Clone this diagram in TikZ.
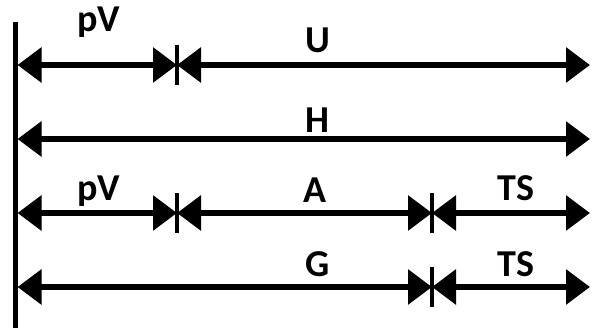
\documentclass[tikz,border=0pt]{standalone}
\usepackage{fontspec}
\setmainfont{Carlito}
\usetikzlibrary{arrows.meta}
\tikzstyle{axis}=[draw=black, line width=5pt]
\tikzstyle{dimline}=[draw=black, line width=6pt, {Triangle[length=24pt, width=34pt]}-{Triangle[length=24pt, width=34pt]}]
\tikzstyle{tick}=[draw=black, line width=3.5pt]
\tikzstyle{quantity}=[anchor=base, inner sep=0pt, font=\fontsize{38}{42}\selectfont\bfseries]

\begin{document}
\begin{tikzpicture}[x=1pt, y=-1pt]
	\useasboundingbox (0, 0) rectangle (592, 328);
	% axis
	\coordinate (top) at (15, 22);
	\coordinate (bottom) at (15, 328);
	\draw [style=axis] (top) to (bottom);
	% ends of the rows
	\coordinate (l1) at (17.5, 65);
	\coordinate (l2) at (17.5, 139);
	\coordinate (l3) at (17.5, 213);
	\coordinate (l4) at (17.5, 287);
	\coordinate (r1) at (590, 65);
	\coordinate (r2) at (590, 139);
	\coordinate (r3) at (590, 213);
	\coordinate (r4) at (590, 287);
	\coordinate (m1) at (177, 65);
	\coordinate (m3) at (177, 213);
	\coordinate (n3) at (432, 213);
	\coordinate (n4) at (432, 287);
	% ticks
	\foreach \c in {m1, m3, n3, n4} {
		\draw [style=tick] ([yshift=-20pt]\c) to ([yshift=20pt]\c);
	}
	% rows
	\draw [style=dimline] (l1) to (m1);
	\draw [style=dimline] (m1) to (r1);
	\draw [style=dimline] (l2) to (r2);
	\draw [style=dimline] (l3) to (m3);
	\draw [style=dimline] (m3) to (n3);
	\draw [style=dimline] (n3) to (r3);
	\draw [style=dimline] (l4) to (n4);
	\draw [style=dimline] (n4) to (r4);
	% labels
	\node [style=quantity] (pv1) at (99, 32) {pV};
	\node [style=quantity] (u) at (318, 53) {U};
	\node [style=quantity] (h) at (317, 133) {H};
	\node [style=quantity] (pv3) at (99, 201) {pV};
	\node [style=quantity] (a) at (315, 203) {A};
	\node [style=quantity] (ts3) at (516, 201) {TS};
	\node [style=quantity] (g) at (318, 277) {G};
	\node [style=quantity] (ts4) at (516, 277) {TS};
\end{tikzpicture}
\end{document}
